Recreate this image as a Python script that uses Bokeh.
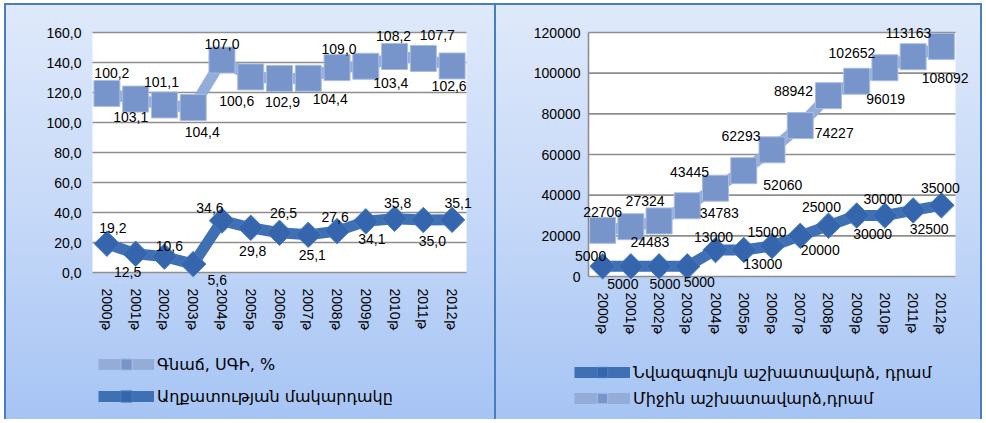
from bokeh.plotting import figure
from bokeh.models import (Range1d, FixedTicker, ColumnDataSource, Legend, LegendItem,
                          BoxAnnotation)
from bokeh.layouts import row, column
from bokeh.embed import file_html
from bokeh.resources import INLINE
from bokeh.core.properties import value

# ---------------- data ----------------
years = ["2000թ", "2001թ", "2002թ", "2003թ", "2004թ", "2005թ", "2006թ",
         "2007թ", "2008թ", "2009թ", "2010թ", "2011թ", "2012թ"]

cpi = [100.2, 103.1, 101.1, 104.4, 107.0, 100.6, 102.9, 104.4, 109.0, 103.4, 108.2, 107.7, 102.6]
poverty = [19.2, 12.5, 10.6, 5.6, 34.6, 29.8, 26.5, 25.1, 27.6, 34.1, 35.8, 35.0, 35.1]

min_wage = [5000, 5000, 5000, 5000, 13000, 13000, 15000, 20000, 25000, 30000, 30000, 32500, 35000]
avg_wage = [22706, 24483, 27324, 34783, 43445, 52060, 62293, 74227, 88942, 96019, 102652, 108092, 113163]

left_ticks = [0, 20, 40, 60, 80, 100, 120, 140, 160]
left_tick_labels = ["0,0", "20,0", "40,0", "60,0", "80,0", "100,0", "120,0", "140,0", "160,0"]
right_ticks = [0, 20000, 40000, 60000, 80000, 100000, 120000]
right_tick_labels = ["0", "20000", "40000", "60000", "80000", "100000", "120000"]

left_names = ["Գնաճ, ՍԳԻ, %", "Աղքատության մակարդակը"]
right_names = ["Նվազագույն աշխատավարձ, դրամ", "Միջին աշխատավարձ,դրամ"]

# label placement (screen px offsets)
cpi_dx = [5, -5, -3, 9, 0, -14, 3, 22, 2, 25, -1, 14, -3]
cpi_dy = [-20, 18, -23, 24, -16, 24, 24, 21, -19, 17, -21, -23, 20]
pov_dx = [6, -8, 5, 24, -12, 2, 4, 4, -2, 6, 3, 9, 6]
pov_dy = [-16, 18, -11, 16, -13, 23, -20, 20, -14, 18, -16, 21, -17]
avg_dx = [0, 19, -14, 32, -26, 39, -31, 34, -35, 29, -33, 32, -33]
avg_dy = [-18, 15, -20, 7, -16, 14, -14, 7, -5, 18, -15, 21, -13]
min_dx = [-12, -8, 6, 12, -2, 19, -5, 20, -7, 16, -2, 16, -1]
min_dy = [-10, 18, 18, 16, -13, 14, -14, 14, -19, 18, -17, 19, -17]

# ---------------- styles ----------------
LIGHT_LINE = "#93acd8"
LIGHT_FILL = "#7895cb"
LIGHT_EDGE = "#a9bde0"
DARK_LINE = "#3f70b3"
DARK_FILL = "#3566ad"
DARK_EDGE = "#4b7cc0"
GRID = "#8e8e8e"
FONT = "Liberation Sans"
ARM_FONT = "DejaVu Sans"
BG = "linear-gradient(180deg, #dfe9fb 0%, #c6d9f8 50%, #a6c4f4 100%)"

N = len(years)
xs = list(range(N))
W1 = 491
W2 = 487
H_CHART = 337
H_LEG = 79


def base_fig(W, plot_w, plot_h, ymax, pads, borders, ticks, tick_labels, ystand, xstand):
    """plot_w/plot_h: size in px of the white plot area; pads: extra frame px (l, r, t, b)
    so that data labels may overflow the plot area without being clipped."""
    pl, pr, pt, pb = pads
    cat_px = plot_w / N
    y_px = plot_h / ymax
    xr = Range1d(-0.5 - pl / cat_px, N - 0.5 + pr / cat_px)
    yr = Range1d(-pb / y_px, ymax + pt / y_px)
    bl, bt = borders
    fw = plot_w + pl + pr
    fh = plot_h + pt + pb
    p = figure(x_range=xr, y_range=yr, width=W, height=H_CHART,
               output_backend="svg", toolbar_location=None,
               min_border_left=bl, min_border_right=W - bl - fw,
               min_border_top=bt, min_border_bottom=H_CHART - bt - fh)
    p.border_fill_alpha = 0
    p.background_fill_alpha = 0
    p.outline_line_color = None
    p.grid.visible = False
    # white plot area and horizontal gridlines, bounded to the category span
    p.add_layout(BoxAnnotation(left=-0.5, right=N - 0.5, bottom=0, top=ymax,
                               fill_color="white", fill_alpha=1, line_color=None,
                               level="underlay"))
    p.segment(x0=[-0.5] * len(ticks), x1=[N - 0.5] * len(ticks), y0=ticks, y1=ticks,
              line_color=GRID, line_width=1.6)
    p.yaxis.ticker = FixedTicker(ticks=ticks)
    p.yaxis.major_label_overrides = {t: l for t, l in zip(ticks, tick_labels)}
    p.xaxis.ticker = FixedTicker(ticks=xs)
    p.xaxis.major_label_overrides = {i: y for i, y in zip(xs, years)}
    for ax in (p.xaxis[0], p.yaxis[0]):
        ax.major_tick_line_color = None
        ax.minor_tick_line_color = None
        ax.major_tick_out = 0
        ax.major_tick_in = 0
        ax.minor_tick_out = 0
        ax.minor_tick_in = 0
        ax.axis_line_color = None
        ax.major_label_text_font = FONT
        ax.major_label_text_font_size = "14px"
        ax.major_label_text_color = "black"
    p.yaxis.major_label_standoff = ystand
    p.xaxis.major_label_standoff = xstand
    p.xaxis.major_label_orientation = "vertical"
    return p


def add_labels(p, vals, ys, dx, dy, fmt):
    src = ColumnDataSource(dict(x=xs, y=ys, t=[fmt(v) for v in vals], dx=dx, dy=dy))
    p.text(x="x", y="y", text="t", x_offset="dx", y_offset="dy", source=src,
           text_font=value(FONT), text_font_size="14px", text_color="black",
           text_align="center", text_baseline="middle")


def add_series(p, ys, light):
    if light:
        l = p.line(xs, ys, line_color=LIGHT_LINE, line_width=11, line_join="round")
        s = p.scatter(xs, ys, marker="square", size=26, fill_color=LIGHT_FILL,
                      line_color=LIGHT_EDGE, line_width=1)
    else:
        l = p.line(xs, ys, line_color=DARK_LINE, line_width=11, line_join="round")
        s = p.scatter(xs, ys, marker="square", angle=0.785398, size=18,
                      fill_color=DARK_FILL, line_color=DARK_EDGE, line_width=1)
    return [l, s]


def legend_fig(W, series, names, left, top, margin, glyph_h, spacing):
    """A strip under a chart that only holds its legend (same series styles; the
    series lie outside this strip's view, so only the legend keys show)."""
    f = figure(x_range=Range1d(-100, -99), y_range=Range1d(-100, -99), width=W, height=H_LEG,
               output_backend="svg", toolbar_location=None,
               min_border_left=left, min_border_top=top, min_border_right=0, min_border_bottom=0,
               x_axis_location=None, y_axis_location=None)
    f.grid.visible = False
    f.outline_line_color = None
    f.border_fill_alpha = 0
    f.background_fill_alpha = 0
    items = []
    for (ys, light), name in zip(series, names):
        items.append(LegendItem(label=name, renderers=add_series(f, ys, light)))
    f.add_layout(Legend(items=items, location="top_left", orientation="vertical",
                        padding=0, margin=margin, spacing=spacing,
                        glyph_width=56, glyph_height=glyph_h, label_standoff=3,
                        label_text_font=ARM_FONT, label_text_font_size="16px",
                        label_text_color="black", label_height=glyph_h,
                        background_fill_alpha=0, border_line_color=None), "center")
    return f


# ---------------- left chart ----------------
cpi_stacked = [a + b for a, b in zip(poverty, cpi)]

p1 = base_fig(W1, 374, 240, 160, (4, 10, 8, 16), (84, 21),
              left_ticks, left_tick_labels, 7, 0)
add_series(p1, cpi_stacked, True)
add_series(p1, poverty, False)

fmt1 = lambda v: f"{v:.1f}".replace(".", ",")
add_labels(p1, cpi, cpi_stacked, cpi_dx, cpi_dy, fmt1)
add_labels(p1, poverty, poverty, pov_dx, pov_dy, fmt1)

lf1 = legend_fig(W1, [(cpi_stacked, True), (poverty, False)], left_names, 84, 0, 10, 28, 4)

# ---------------- right chart ----------------
p2 = base_fig(W2, 367, 244, 120000, (14, 16, 8, 16), (79, 21),
              right_ticks, right_tick_labels, -6, 0)
# left axis line of the plot area
p2.segment(x0=[-0.5], x1=[-0.5], y0=[0], y1=[right_ticks[-1]], line_color=GRID, line_width=1.6)
add_series(p2, avg_wage, True)
add_series(p2, min_wage, False)

fmt2 = lambda v: str(v)
add_labels(p2, avg_wage, avg_wage, avg_dx, avg_dy, fmt2)
add_labels(p2, min_wage, min_wage, min_dx, min_dy, fmt2)

lf2 = legend_fig(W2, [(min_wage, False), (avg_wage, True)], right_names, 79, 19, 0, 26, 0)

c1 = column(p1, lf1, spacing=0,
            styles={"background": BG, "box-shadow": "inset 2px 2px 0 0 #4a7ebb, inset -1px 0 0 0 #4a7ebb"})
c2 = column(p2, lf2, spacing=0,
            styles={"background": BG, "box-shadow": "inset -2px 2px 0 0 #4a7ebb, inset 1px 0 0 0 #4a7ebb"})
layout = row(c1, c2, spacing=0, margin=(3, 0, 0, 4))
open("out.html", "w").write(file_html(layout, INLINE))
